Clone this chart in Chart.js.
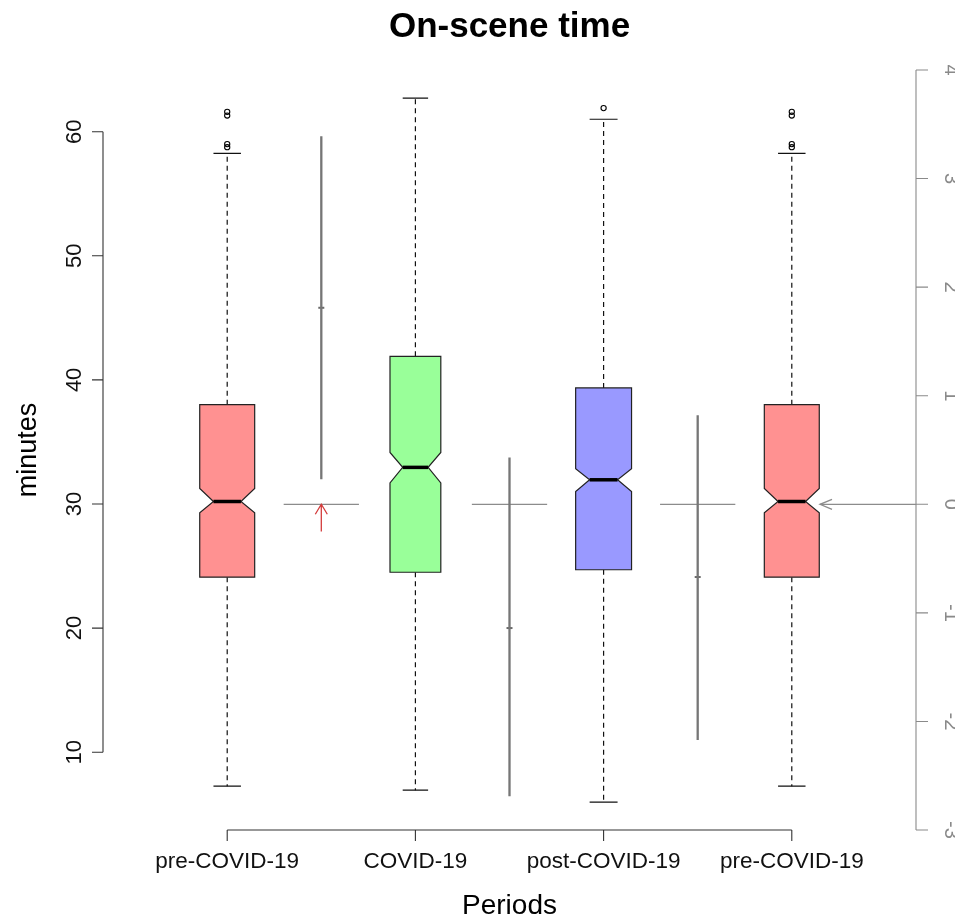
<!DOCTYPE html>
<html>
<head>
<meta charset="utf-8">
<script src="https://cdn.jsdelivr.net/npm/chart.js@4.4.0/dist/chart.umd.min.js"></script>
<style>
html,body{margin:0;padding:0;background:#fff;}
#wrap{width:955px;height:922px;position:relative;}
</style>
</head>
<body>
<div id="wrap"><canvas id="c"></canvas></div>
<script>
// ---------- data ----------
const categories   = ['pre-COVID-19', 'COVID-19', 'post-COVID-19', 'pre-COVID-19'];
const whiskerLow   = [7.26, 6.94, 5.97, 7.26];
const q1           = [24.1, 24.5, 24.7, 24.1];
const notchLow     = [29.3, 31.7, 31.0, 29.3];
const median       = [30.2, 32.95, 31.95, 30.2];
const notchHigh    = [31.25, 34.15, 32.85, 31.25];
const q3           = [38.0, 41.9, 39.35, 38.0];
const whiskerHigh  = [58.25, 62.7, 61.0, 58.25];
const outliers     = [[61.6, 61.3, 59.0, 58.75], [], [61.9], [61.6, 61.3, 59.0, 58.75]];

// overlay on the right-hand axis (between boxes)
const overlayTop    = [3.39, 0.43, 0.82];
const overlayBottom = [0.23, -2.69, -2.17];
const overlayMark   = [1.81, -1.14, -0.67];
const overlayRef    = 0;
const redArrowFrom  = -0.25;

const leftTicks  = [10, 20, 30, 40, 50, 60];
const rightTicks = [-3, -2, -1, 0, 1, 2, 3, 4];

const titleText  = 'On-scene time';
const xTitle     = 'Periods';
const yTitle     = 'minutes';

// ---------- styles ----------
const boxFills  = ['#FF9191', '#99FF99', '#9999FF', '#FF9191'];
const boxWidths = [0.292, 0.27, 0.297, 0.292];
const FONT = '"Liberation Sans", Arial, sans-serif';

// ---------- datasets ----------
const outlierPts = [];
outliers.forEach((arr, i) => arr.forEach(v => outlierPts.push({x: i + 1, y: v})));

const datasets = [];
overlayTop.forEach((t, i) => {
  datasets.push({
    type: 'line', yAxisID: 'y2',
    data: [{x: i + 1.5, y: t}, {x: i + 1.5, y: overlayBottom[i]}],
    borderColor: '#767676', borderWidth: 2.3, pointRadius: 0, showLine: true
  });
  datasets.push({
    type: 'line', yAxisID: 'y2',
    data: [{x: i + 1.3, y: overlayRef}, {x: i + 1.7, y: overlayRef}],
    borderColor: '#8c8c8c', borderWidth: 1.3, pointRadius: 0, showLine: true
  });
});
datasets.push({
  type: 'scatter', yAxisID: 'y2',
  data: overlayMark.map((v, i) => ({x: i + 1.5, y: v})),
  pointStyle: 'line', pointRadius: 3, borderColor: '#6a6a6a', pointBorderWidth: 2
});
datasets.push({
  type: 'line', yAxisID: 'y2',
  data: [{x: 4.15, y: overlayRef}, {x: 4.66, y: overlayRef}],
  borderColor: '#8c8c8c', borderWidth: 1.3, pointRadius: 0, showLine: true
});
datasets.push({
  type: 'scatter', yAxisID: 'y',
  data: outlierPts,
  pointStyle: 'circle', pointRadius: 2.6, pointBorderWidth: 1.1,
  borderColor: '#000', backgroundColor: 'rgba(0,0,0,0)'
});

// ---------- plugin: boxes, axes, texts ----------
const rPlot = {
  id: 'rPlot',
  beforeDatasetsDraw(chart) {
    const ctx = chart.ctx, X = chart.scales.x, Y = chart.scales.y;
    ctx.save();
    categories.forEach((c, i) => {
      const cx = i + 1, w = boxWidths[i];
      const xl = X.getPixelForValue(cx - w / 2), xr = X.getPixelForValue(cx + w / 2);
      const il = X.getPixelForValue(cx - w / 4), ir = X.getPixelForValue(cx + w / 4);
      const xc = X.getPixelForValue(cx);
      // whiskers
      ctx.strokeStyle = '#111'; ctx.lineWidth = 1.2; ctx.setLineDash([5, 4]);
      ctx.beginPath();
      ctx.moveTo(xc, Y.getPixelForValue(q3[i])); ctx.lineTo(xc, Y.getPixelForValue(whiskerHigh[i]));
      ctx.moveTo(xc, Y.getPixelForValue(q1[i])); ctx.lineTo(xc, Y.getPixelForValue(whiskerLow[i]));
      ctx.stroke();
      ctx.setLineDash([]);
      ctx.beginPath();
      ctx.moveTo(il, Y.getPixelForValue(whiskerHigh[i])); ctx.lineTo(ir, Y.getPixelForValue(whiskerHigh[i]));
      ctx.moveTo(il, Y.getPixelForValue(whiskerLow[i])); ctx.lineTo(ir, Y.getPixelForValue(whiskerLow[i]));
      ctx.stroke();
      // notched box
      const yq3 = Y.getPixelForValue(q3[i]), yq1 = Y.getPixelForValue(q1[i]);
      const ynh = Y.getPixelForValue(notchHigh[i]), ynl = Y.getPixelForValue(notchLow[i]);
      const ym = Y.getPixelForValue(median[i]);
      ctx.beginPath();
      ctx.moveTo(xl, yq3); ctx.lineTo(xr, yq3); ctx.lineTo(xr, ynh); ctx.lineTo(ir, ym);
      ctx.lineTo(xr, ynl); ctx.lineTo(xr, yq1); ctx.lineTo(xl, yq1); ctx.lineTo(xl, ynl);
      ctx.lineTo(il, ym); ctx.lineTo(xl, ynh); ctx.closePath();
      ctx.fillStyle = boxFills[i]; ctx.fill();
      ctx.strokeStyle = '#222'; ctx.lineWidth = 1.2; ctx.stroke();
      // median
      ctx.beginPath(); ctx.moveTo(il, ym); ctx.lineTo(ir, ym);
      ctx.lineWidth = 3.5; ctx.strokeStyle = '#000'; ctx.stroke();
    });
    ctx.restore();
  },
  afterDraw(chart) {
    const ctx = chart.ctx, X = chart.scales.x, Y = chart.scales.y, Y2 = chart.scales.y2;
    const a = chart.chartArea;
    ctx.save();
    // red arrow
    const ax = X.getPixelForValue(1.5);
    const yTip = Y2.getPixelForValue(overlayRef), yFrom = Y2.getPixelForValue(redArrowFrom);
    ctx.strokeStyle = '#d43c3c'; ctx.lineWidth = 1.3;
    ctx.beginPath();
    ctx.moveTo(ax, yFrom); ctx.lineTo(ax, yTip);
    ctx.moveTo(ax - 6, yTip + 10); ctx.lineTo(ax, yTip); ctx.lineTo(ax + 6, yTip + 10);
    ctx.stroke();
    // gray arrowhead on the right
    const hx = X.getPixelForValue(4.15);
    ctx.strokeStyle = '#8c8c8c'; ctx.lineWidth = 1.3;
    ctx.beginPath();
    ctx.moveTo(hx + 12, yTip - 5); ctx.lineTo(hx, yTip); ctx.lineTo(hx + 12, yTip + 5);
    ctx.stroke();

    // left axis
    ctx.strokeStyle = '#333'; ctx.lineWidth = 1.1;
    ctx.beginPath();
    ctx.moveTo(a.left, Y.getPixelForValue(leftTicks[0]));
    ctx.lineTo(a.left, Y.getPixelForValue(leftTicks[leftTicks.length - 1]));
    leftTicks.forEach(t => {
      const yy = Y.getPixelForValue(t);
      ctx.moveTo(a.left - 11, yy); ctx.lineTo(a.left, yy);
    });
    ctx.stroke();
    ctx.fillStyle = '#111';
    ctx.font = '22px ' + FONT;
    ctx.textAlign = 'center'; ctx.textBaseline = 'alphabetic';
    leftTicks.forEach(t => {
      ctx.save();
      ctx.translate(81, Y.getPixelForValue(t));
      ctx.rotate(-Math.PI / 2);
      ctx.fillText(String(t), 0, 0);
      ctx.restore();
    });

    // bottom axis
    ctx.strokeStyle = '#333';
    ctx.beginPath();
    ctx.moveTo(X.getPixelForValue(1), a.bottom);
    ctx.lineTo(X.getPixelForValue(categories.length), a.bottom);
    categories.forEach((c, i) => {
      const xx = X.getPixelForValue(i + 1);
      ctx.moveTo(xx, a.bottom); ctx.lineTo(xx, a.bottom + 11);
    });
    ctx.stroke();
    ctx.font = '22.5px ' + FONT;
    ctx.textBaseline = 'middle';
    categories.forEach((c, i) => ctx.fillText(c, X.getPixelForValue(i + 1), 862));

    // right axis
    ctx.strokeStyle = '#8a8a8a';
    ctx.beginPath();
    ctx.moveTo(a.right, Y2.getPixelForValue(rightTicks[0]));
    ctx.lineTo(a.right, Y2.getPixelForValue(rightTicks[rightTicks.length - 1]));
    rightTicks.forEach(t => {
      const yy = Y2.getPixelForValue(t);
      ctx.moveTo(a.right, yy); ctx.lineTo(a.right + 12, yy);
    });
    ctx.stroke();
    ctx.fillStyle = '#8a8a8a';
    ctx.font = '20px ' + FONT;
    ctx.textBaseline = 'alphabetic';
    rightTicks.forEach(t => {
      ctx.save();
      ctx.translate(945, Y2.getPixelForValue(t));
      ctx.rotate(Math.PI / 2);
      ctx.fillText(String(t), 0, 0);
      ctx.restore();
    });

    // titles
    ctx.fillStyle = '#000';
    ctx.font = 'bold 35px ' + FONT;
    ctx.textBaseline = 'middle';
    ctx.fillText(titleText, (a.left + a.right) / 2, 27);
    ctx.font = '28px ' + FONT;
    ctx.fillText(xTitle, (a.left + a.right) / 2, 906);
    ctx.save();
    ctx.translate(29, (a.top + a.bottom) / 2);
    ctx.rotate(-Math.PI / 2);
    ctx.font = '27px ' + FONT;
    ctx.fillText(yTitle, 0, 0);
    ctx.restore();
    ctx.restore();
  }
};

new Chart(document.getElementById('c'), {
  type: 'scatter',
  data: { datasets },
  options: {
    responsive: true, maintainAspectRatio: false, animation: false,
    layout: { padding: { left: 103, right: 39, top: 70, bottom: 92 } },
    plugins: { legend: { display: false }, tooltip: { enabled: false }, title: { display: false } },
    scales: {
      x:  { type: 'linear', min: 0.34, max: 4.66, display: false },
      y:  { type: 'linear', min: 3.73, max: 64.97, display: false },
      y2: { type: 'linear', min: -3, max: 4, display: false, position: 'right' }
    }
  },
  plugins: [rPlot]
});
</script>
</body>
</html>
